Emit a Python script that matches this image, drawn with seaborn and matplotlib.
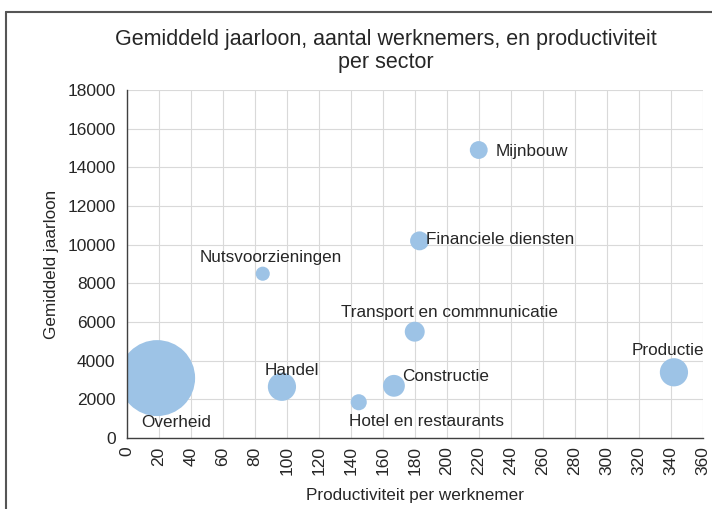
import pandas as pd
import matplotlib.pyplot as plt
import seaborn as sns
from matplotlib.lines import Line2D

sns.set_theme(style='white')
plt.rcParams['font.family'] = ['Liberation Sans', 'DejaVu Sans']

sectors = ['Overheid', 'Handel', 'Hotel en restaurants', 'Constructie',
           'Transport en commnunicatie', 'Productie', 'Mijnbouw',
           'Financiele diensten', 'Nutsvoorzieningen']
productiviteit = [19, 97, 145, 167, 180, 342, 220, 183, 85]
jaarloon = [3100, 2650, 1850, 2700, 5500, 3400, 14900, 10200, 8500]
werknemers = [1450, 200, 65, 120, 100, 200, 80, 90, 50]

# label offsets in points (dx, dy, ha)
label_pos = [(14, -32, 'center'), (7, 12, 'center'), (-7, -14, 'left'),
             (6, 7, 'left'), (25, 14, 'center'), (-4, 16, 'center'),
             (12, -1, 'left'), (5, 1, 'left'), (6, 12, 'center')]

df = pd.DataFrame({'Sector': sectors, 'x': productiviteit,
                   'y': jaarloon, 'n': werknemers})

fig = plt.figure(figsize=(7.12, 5.09), dpi=100)
ax = fig.add_axes([0.178, 0.1395, 0.809, 0.6835])

sns.scatterplot(data=df, x='x', y='y', size='n', sizes=(0, 2990),
                size_norm=(0, 1450), color='#9DC3E6', edgecolor='none',
                alpha=1, legend=False, ax=ax, zorder=3)
for coll in ax.collections:
    coll.set_clip_on(True)
    coll.set_clip_box(ax.bbox)
    coll.set_clip_path(ax.patch)

for (name, x, y), (dx, dy, ha) in zip(zip(sectors, productiviteit, jaarloon), label_pos):
    ax.annotate(name, (x, y), xytext=(dx, dy), textcoords='offset points',
                ha=ha, va='center', fontsize=12.3, color='#262626', zorder=4)

ax.set_xlim(0, 360)
ax.set_ylim(0, 18000)
ax.set_xticks(range(0, 361, 20))
ax.set_yticks(range(0, 18001, 2000))
ax.tick_params(axis='x', labelrotation=90, length=0, pad=6, labelsize=12.5, colors='#262626')
ax.tick_params(axis='y', length=0, pad=8, labelsize=12.5, colors='#262626')
ax.grid(True, color='#d9d9d9', linewidth=0.8)
ax.set_axisbelow(True)
for side in ['top', 'right']:
    ax.spines[side].set_visible(False)
for side in ['left', 'bottom']:
    ax.spines[side].set_color('#404040')
    ax.spines[side].set_linewidth(1.0)
    ax.spines[side].set_zorder(5)

ax.set_xlabel('Productiviteit per werknemer', fontsize=12.3, color='#262626', labelpad=9)
ax.set_ylabel('Gemiddeld jaarloon', fontsize=12.3, color='#262626', labelpad=6)

fig.text(0.542, 0.943, 'Gemiddeld jaarloon, aantal werknemers, en productiviteit\nper sector',
         ha='center', va='top', fontsize=15.5, color='#262626', linespacing=1.15)

# outer chart frame
fig.add_artist(Line2D([0.009, 0.009], [0, 0.976], color='#555555', lw=1.5))
fig.add_artist(Line2D([0.009, 1], [0.976, 0.976], color='#555555', lw=1.5))

fig.savefig('out.png', dpi=100)
